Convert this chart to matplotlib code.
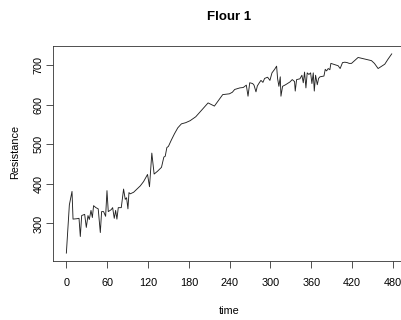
import matplotlib
matplotlib.use("Agg")
import matplotlib.pyplot as plt

plt.rcParams['font.family'] = ['Liberation Sans', 'DejaVu Sans']

time = [0, 4.4, 8.3, 9.8, 15.6, 18.6, 20.5, 22.5, 26.9, 29.3, 31.8, 33.7, 36.2, 38.2, 40,
        43.4, 46.8, 49.9, 51.8, 54.7, 57.7, 59.7, 61.6, 66, 68, 70.4, 72.4, 74.3, 76.3, 80.7,
        84.1, 86.5, 88.5, 90.5, 92, 94, 98.9, 103.7, 108.6, 113.5, 119.3, 122.2, 125.6, 129,
        133.9, 139.8, 143.3, 145.3, 147.7, 150, 154, 158.9, 163.8, 169.1, 175.4, 181.9, 190.2,
        198.5, 208.3, 217.6, 229.8, 239.6, 244, 247.4, 255, 260, 264.5, 267, 269.5, 273.8,
        275.8, 278.7, 280.7, 283.6, 286, 288.9, 291.4, 295.8, 299.2, 302.2, 306.1, 309, 310.5,
        312.4, 314.4, 315.4, 317.8, 322.2, 328.6, 332, 335.4, 336.4, 338.4, 343.3, 346.2,
        348.2, 350.1, 352.1, 354, 356.5, 359, 360.9, 362.9, 364.4, 366.3, 368.8, 370.7, 372.7,
        378.6, 380.5, 382.5, 384.9, 387.3, 388.8, 392.2, 399.5, 402.4, 405.9, 409.3, 412.7,
        415.7, 419.1, 428.8, 438.6, 448.4, 452.8, 458.2, 468, 472.9, 478.2]
resistance = [225, 347, 381, 311, 312, 313, 267, 320, 323, 290, 320, 310, 333, 315, 345,
              340, 337, 277, 330, 330, 318, 383, 330, 335, 340, 313, 333, 311, 340, 340,
              387, 361, 365, 337, 378, 375, 379, 387, 395, 406, 424, 393, 478, 425,
              432, 442, 468, 470, 492, 495, 510, 527, 542, 552, 555, 560, 570,
              586, 605, 597, 626, 628, 632, 639, 643, 644, 650, 622, 656, 654,
              650, 633, 648, 656, 662, 657, 667, 670, 662, 681, 690, 698, 666,
              647, 671, 622, 647, 651, 658, 664, 659, 635, 664, 666, 675,
              656, 683, 643, 681, 677, 681, 654, 681, 635, 675, 651, 667, 671,
              673, 690, 686, 692, 689, 705, 703, 699, 692, 707, 708, 707,
              705, 705, 720, 716, 712, 705, 692, 703, 716, 729]
xticks = [0, 60, 120, 180, 240, 300, 360, 420, 480]
yticks = [300, 400, 500, 600, 700]
assert len(time) == len(resistance)

fig = plt.figure(figsize=(4.01, 3.2), dpi=100)
ax = fig.add_axes([53.3 / 401, 59 / 320, 352.7 / 401, 215 / 320])
ax.plot(time, resistance, color='#222222', linewidth=0.65)

ax.set_xlim(-19.2, 499.2)
ax.set_ylim(205, 749)
ax.set_xticks(xticks)
ax.set_yticks(yticks)
ax.tick_params(axis='both', direction='out', length=5, width=0.6, labelsize=7.8, color='#333333')
ax.tick_params(axis='x', pad=7)
ax.tick_params(axis='y', pad=2)
for lab in ax.get_yticklabels():
    lab.set_rotation(90)
    lab.set_va('center')
for s in ax.spines.values():
    s.set_linewidth(0.6)
    s.set_color('#333333')

fig.text(229 / 401, 1 - 17 / 320, "Flour 1", ha='center', va='center', fontsize=9.5, fontweight='bold')
fig.text(15 / 401, 1 - 152 / 320, "Resistance", ha='center', va='center', rotation=90, fontsize=7.8)
fig.text(229 / 401, 1 - 311 / 320, "time", ha='center', va='center', fontsize=7.8)

fig.savefig("out.png", dpi=100)
